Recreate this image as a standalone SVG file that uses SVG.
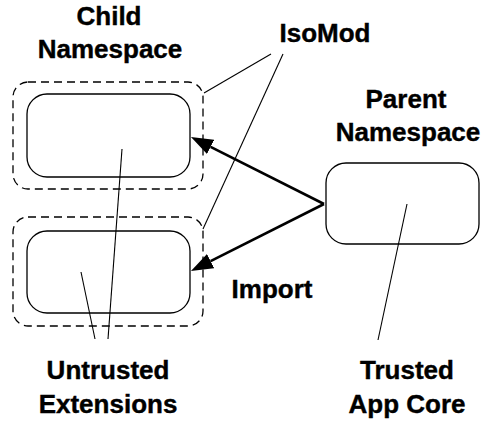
<svg xmlns="http://www.w3.org/2000/svg" width="481" height="423" viewBox="0 0 481 423">
  <style>
    .lbl { font-family: "Liberation Sans", Arial, sans-serif; font-weight: bold; font-size: 26px; fill: #000; stroke: #000; stroke-width: 0.4; text-anchor: middle; }
    .box { fill: #fff; stroke: #000; stroke-width: 1.3; }
    .iso { fill: none; stroke: #000; stroke-width: 1.3; stroke-dasharray: 8 5; }
    .lead { fill: none; stroke: #000; stroke-width: 1.1; }
    .imp { fill: none; stroke: #000; stroke-width: 2.6; }
  </style>
  <defs>
    <marker id="head" markerUnits="userSpaceOnUse" markerWidth="24" markerHeight="18" refX="0" refY="8" orient="auto" viewBox="0 0 24 16">
      <path d="M0,0 L22,8 L0,16 z" fill="#000"/>
    </marker>
  </defs>

  <!-- child namespace, upper extension -->
  <g id="child-upper">
    <rect class="iso" x="13" y="82" width="190" height="107" rx="15"/>
    <rect class="box" x="27" y="94" width="163" height="83" rx="20"/>
  </g>

  <!-- child namespace, lower extension -->
  <g id="child-lower">
    <rect class="iso" x="13" y="217" width="190" height="109" rx="15"/>
    <rect class="box" x="27" y="231" width="163" height="82" rx="20"/>
  </g>

  <!-- parent namespace -->
  <g id="parent">
    <rect class="box" x="326" y="163" width="153" height="81" rx="20"/>
  </g>

  <!-- labels -->
  <g id="label-child">
    <text class="lbl" x="109" y="25">Child</text>
    <text class="lbl" x="110" y="58">Namespace</text>
  </g>
  <g id="label-isomod">
    <text class="lbl" x="325" y="42">IsoMod</text>
  </g>
  <g id="label-parent">
    <text class="lbl" x="406" y="108">Parent</text>
    <text class="lbl" x="408" y="141">Namespace</text>
  </g>
  <g id="label-import">
    <text class="lbl" x="272" y="298">Import</text>
  </g>
  <g id="label-untrusted">
    <text class="lbl" x="108" y="379">Untrusted</text>
    <text class="lbl" x="108" y="413">Extensions</text>
  </g>
  <g id="label-trusted">
    <text class="lbl" x="407" y="379">Trusted</text>
    <text class="lbl" x="407" y="413">App Core</text>
  </g>

  <!-- connectors -->
  <g id="connectors">
    <line class="lead" x1="204" y1="93" x2="271" y2="54"/>
    <line class="lead" x1="283" y1="54" x2="203" y2="229"/>
    <line class="lead" x1="122" y1="149" x2="108" y2="339"/>
    <line class="lead" x1="81" y1="272" x2="95" y2="339"/>
    <line class="lead" x1="407" y1="204" x2="378" y2="340"/>
    <line class="imp" x1="324" y1="204" x2="210.6" y2="146.9" marker-end="url(#head)"/>
    <line class="imp" x1="324" y1="204" x2="210.6" y2="261.1" marker-end="url(#head)"/>
  </g>
</svg>
